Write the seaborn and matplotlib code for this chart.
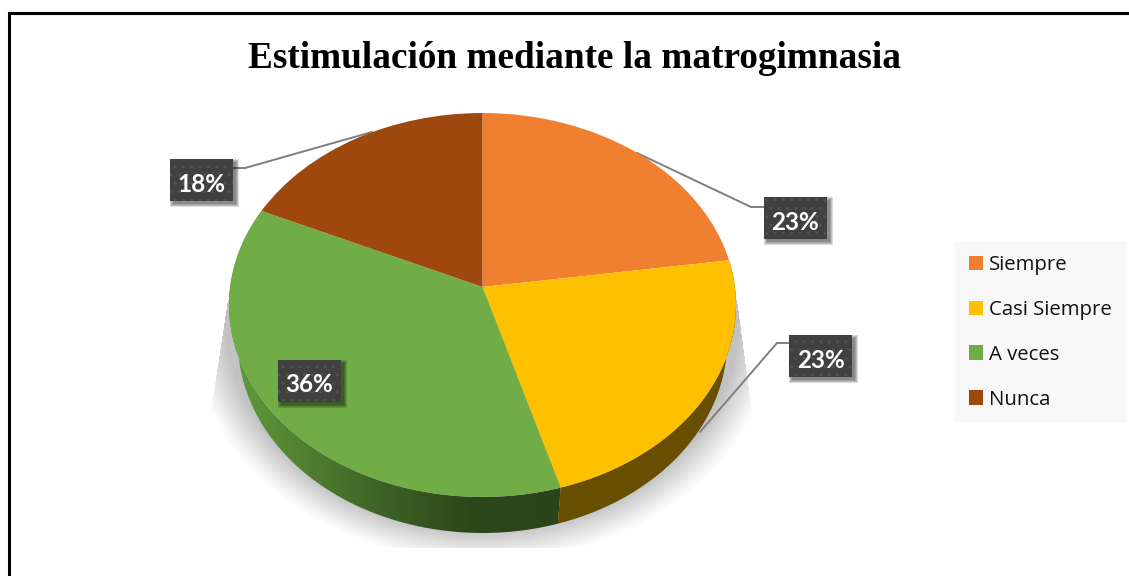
import numpy as np
import matplotlib
matplotlib.use("Agg")
import matplotlib.pyplot as plt
from matplotlib.patches import Rectangle, Polygon
from matplotlib.transforms import Transform
import seaborn as sns

TITLE = "Estimulación mediante la matrogimnasia"
categories = ["Siempre", "Casi Siempre", "A veces", "Nunca"]
values = [5, 5, 8, 4]
pct_labels = ["23%", "23%", "36%", "18%"]
top_colors = ["#F08030", "#FFC000", "#70AD47", "#9E480E"]

sns.set_theme(style="white")
palette = sns.color_palette(top_colors)

W, H = 1129, 576
CX, CY, A, B, K = 482.5, 287.0, 190.3, 252.4, 0.09375
DEPTH = 36
SIDE_SCALE = 0.965


def persp(xy):
    xy = np.asarray(xy, dtype=float)
    w = 1 + K * xy[..., 1]
    return np.stack([CX + B * xy[..., 0] / w, CY - A * xy[..., 1] / w], axis=-1)


class Persp(Transform):
    input_dims = output_dims = 2
    is_affine = False
    has_inverse = False

    def transform_non_affine(self, values):
        return persp(values)


fig = plt.figure(figsize=(W / 100, H / 100), dpi=100, facecolor="white")
ax = fig.add_axes([0, 0, 1, 1])
wedges, _ = ax.pie(values, colors=palette, startangle=90, counterclock=False,
                   wedgeprops=dict(linewidth=0, edgecolor="none", zorder=3))
to_px = Persp() + ax.transData
for w in wedges:
    w.set_transform(to_px)

# soft shadow under the disc
yy, xx = np.mgrid[0:H, 0:W] + 0.5
d = np.sqrt(((xx - CX) / 262.0) ** 2 + ((yy - 318.0) / 217.0) ** 2)
sh = np.clip((1.13 - d) / 0.15, 0, 1) ** 1.1 * 0.24
left_lim = 228 - (yy - 300) * 16 / 105
right_lim = 737 + (yy - 300) * 14 / 105
sh[(yy < 300) | (yy > 548) | (xx < left_lim) | (xx > right_lim)] = 0
rgba = np.zeros((H, W, 4))
rgba[..., 3] = sh
ax.imshow(rgba, extent=(0, W, H, 0), aspect="auto", zorder=1, interpolation="bilinear")


def side(wedge, stops):
    t = np.radians(np.linspace(wedge.theta1, wedge.theta2, 200))
    arc = persp(np.column_stack([np.cos(t), np.sin(t)]))
    low = arc[::-1].copy()
    low[:, 0] = CX + (low[:, 0] - CX) * SIDE_SCALE
    low[:, 1] += DEPTH
    poly = Polygon(np.vstack([arc, low]), closed=True, transform=ax.transData,
                   facecolor="none", edgecolor="none")
    ax.add_patch(poly)
    xs = np.arange(W) + 0.5
    pos, cols = zip(*stops)
    cols = np.array([matplotlib.colors.to_rgb(c) for c in cols])
    grad = np.stack([np.interp(xs, pos, cols[:, i]) for i in range(3)], axis=-1)[None, :, :]
    im = ax.imshow(grad, extent=(0, W, H, 0), aspect="auto", zorder=2)
    im.set_clip_path(poly)


side(wedges[2], [(235, "#5F9A3B"), (300, "#528232"), (380, "#3E6326"),
                 (470, "#2E4719"), (560, "#2A431A")])
side(wedges[1], [(540, "#674E00"), (740, "#674E00")])

# leader lines
leaders = [([764, 751, 637], [207, 207, 153]),
           ([789, 777, 700], [343, 343, 432]),
           ([233, 245, 372], [168, 168, 132])]
for lx, ly in leaders:
    ax.plot(lx, ly, color="#7F7F7F", lw=1.4, zorder=2.5, solid_joinstyle="miter")

# label boxes
plt.rcParams["hatch.linewidth"] = 1.0
boxes = [(764, 197), (789, 335), (278, 360), (170, 159)]
for lab, (bx, by) in zip(pct_labels, boxes):
    for i in range(3, -1, -1):
        ax.add_patch(Rectangle((bx + 3 - i, by + 3 - i), 63 + 2 * i, 42 + 2 * i,
                               facecolor="black", edgecolor="none", alpha=0.14, zorder=5))
    ax.add_patch(Rectangle((bx, by), 63, 42, facecolor="#404040", edgecolor="none", zorder=5.1))
    ax.add_patch(Rectangle((bx, by), 63, 42, facecolor="none", edgecolor="#505050",
                           hatch="..", linewidth=0, zorder=5.2))
    ax.text(bx + 31.5, by + 25, lab, color="white", family="Lato", weight="bold",
            fontsize=17.5, ha="center", va="center", zorder=6)

ax.text(574, 59, TITLE, family="Liberation Serif", weight="bold", fontsize=26.8,
        color="black", ha="center", va="center", zorder=6)

# legend
leg = ax.legend(wedges, categories, loc="upper left", bbox_to_anchor=(955, 241),
                bbox_transform=ax.transData, frameon=True, fancybox=False,
                facecolor="#F8F8F8", edgecolor="none", framealpha=1,
                prop=dict(family="Open Sans", size=14.7), labelcolor="#111111",
                labelspacing=1.22, borderpad=0.68, borderaxespad=0,
                handlelength=0.69, handleheight=0.69, handletextpad=0.3)
leg.set_zorder(6)

# outer frame
ax.set_aspect("auto")
ax.set_xlim(0, W)
ax.set_ylim(H, 0)
ax.axis("off")
ax.plot([8.5, 8.5, 1129], [576, 13, 13], color="black", lw=2.2, zorder=7,
        solid_joinstyle="miter", clip_on=True)

fig.savefig("out.png", dpi=100, facecolor="white")
